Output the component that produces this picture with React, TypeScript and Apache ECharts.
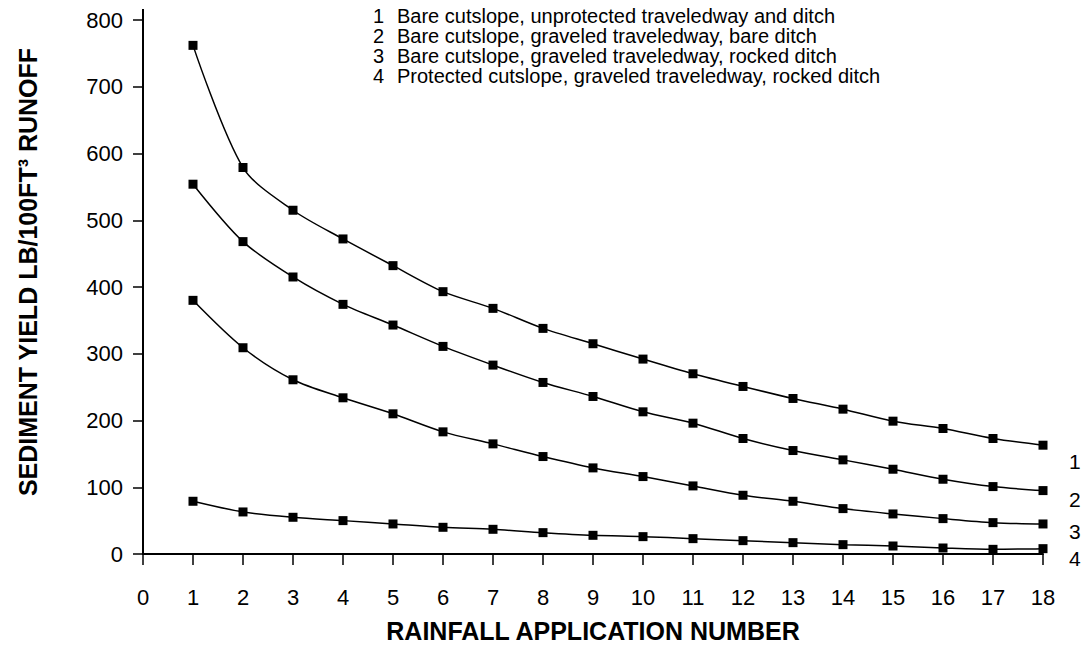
import React, { useEffect, useRef } from "react";
import * as echarts from "echarts";

const applicationNumbers = [1, 2, 3, 4, 5, 6, 7, 8, 9, 10, 11, 12, 13, 14, 15, 16, 17, 18];
const series1 = [762, 579, 515, 472, 432, 393, 368, 338, 315, 292, 270, 251, 233, 217, 199, 188, 173, 163];
const series2 = [554, 468, 415, 374, 343, 311, 283, 257, 236, 213, 196, 173, 155, 141, 127, 112, 101, 95];
const series3 = [380, 309, 261, 234, 210, 183, 165, 146, 129, 116, 102, 88, 79, 68, 60, 53, 47, 45];
const series4 = [79, 63, 55, 50, 45, 40, 37, 32, 28, 26, 23, 20, 17, 14, 12, 9, 7, 8];
const seriesNumbers = ["1", "2", "3", "4"];
const seriesDescriptions = [
  "Bare cutslope, unprotected traveledway and ditch",
  "Bare cutslope, graveled traveledway, bare ditch",
  "Bare cutslope, graveled traveledway, rocked ditch",
  "Protected cutslope, graveled traveledway, rocked ditch",
];
const allSeries = [series1, series2, series3, series4];
const xAxisTitle = "RAINFALL APPLICATION NUMBER";
const yAxisTitle = "SEDIMENT YIELD LB/100FT³ RUNOFF";

const FONT = "'Liberation Sans', Arial, Helvetica, sans-serif";

export default function App() {
  const ref = useRef<HTMLDivElement>(null);
  useEffect(() => {
    document.body.style.margin = "0";
    const chart = echarts.init(ref.current!, undefined, { renderer: "svg" });
    const endOffsets = [[0, 16], [0, 9], [0, 8], [0, 10]];
    chart.setOption({
      animation: false,
      backgroundColor: "#ffffff",
      grid: { left: 143, right: 38, top: 20, bottom: 82 },
      xAxis: {
        type: "value",
        min: 0,
        max: 18,
        interval: 1,
        name: xAxisTitle,
        nameLocation: "middle",
        nameGap: 64,
        nameTextStyle: { fontFamily: FONT, fontWeight: "bold", fontSize: 25, color: "#000" },
        axisLine: { show: true, onZero: false, lineStyle: { color: "#000", width: 2 } },
        axisTick: { show: true, inside: false, length: 11, lineStyle: { color: "#000", width: 1.5 } },
        axisLabel: { fontFamily: FONT, fontSize: 22, color: "#000", margin: 32 },
        splitLine: { show: false },
      },
      yAxis: {
        type: "value",
        min: 0,
        max: 800,
        interval: 100,
        axisLine: { show: true, lineStyle: { color: "#000", width: 2 } },
        axisTick: { show: true, inside: false, length: 10, lineStyle: { color: "#000", width: 1.5 } },
        axisLabel: { fontFamily: FONT, fontSize: 22, color: "#000", margin: 20 },
        splitLine: { show: false },
      },
      graphic: [
        {
          type: "line",
          shape: { x1: 143, y1: 9, x2: 143, y2: 21 },
          style: { stroke: "#000", lineWidth: 2 },
        },
        {
          type: "text",
          x: 28,
          y: 272,
          rotation: Math.PI / 2,
          style: {
            text: yAxisTitle,
            font: `bold 25px ${FONT}`,
            fill: "#000",
            textAlign: "center",
            textVerticalAlign: "middle",
          },
        },
        {
          type: "text",
          x: 373,
          y: 6,
          style: {
            text: seriesNumbers.join("\n"),
            font: `20px ${FONT}`,
            lineHeight: 20,
            fill: "#000",
          },
        },
        {
          type: "text",
          x: 397,
          y: 6,
          style: {
            text: seriesDescriptions.join("\n"),
            font: `20px ${FONT}`,
            lineHeight: 20,
            fill: "#000",
          },
        },
      ],
      series: allSeries.map((vals, i) => ({
        type: "line",
        name: seriesNumbers[i],
        data: vals.map((v, j) => [applicationNumbers[j], v]),
        smooth: 0.3,
        symbol: "rect",
        symbolSize: 9,
        lineStyle: { color: "#000", width: 1.5 },
        itemStyle: { color: "#000" },
        endLabel: {
          show: true,
          formatter: seriesNumbers[i],
          fontFamily: FONT,
          fontSize: 21,
          color: "#000",
          distance: 26,
          offset: endOffsets[i],
        },
        z: 3,
      })),
    });
    return () => chart.dispose();
  }, []);
  return <div ref={ref} style={{ width: 1081, height: 648 }} />;
}
